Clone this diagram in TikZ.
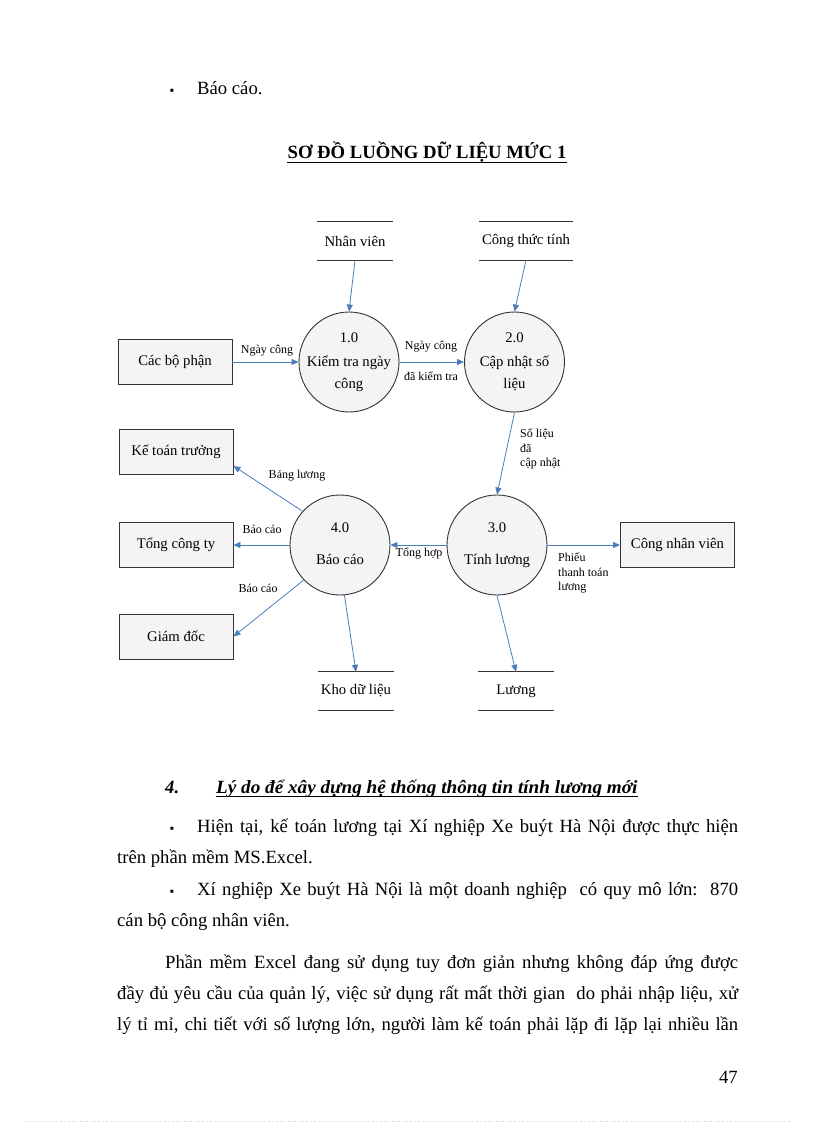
\documentclass[tikz,border=0pt]{standalone}
\usepackage{fontspec}
\setmainfont{Liberation Serif}
\usetikzlibrary{arrows.meta}
\definecolor{flowblue}{RGB}{74,126,187}
\definecolor{shapefill}{RGB}{244,244,244}
\begin{document}
\begin{tikzpicture}[x=1pt,y=-1pt,
  body/.style={font=\fontsize{18.67}{22}\selectfont, inner sep=0pt, anchor=base west},
  proc/.style={circle, draw=black!80, line width=0.9pt, fill=shapefill, minimum size=100pt, inner sep=0pt},
  ptext/.style={font=\fontsize{14.7}{18}\selectfont, inner sep=0pt, anchor=base},
  ent/.style={rectangle, draw=black!80, line width=0.9pt, fill=shapefill, minimum width=114pt, minimum height=45pt, font=\fontsize{14.7}{18}\selectfont},
  store/.style={minimum width=75pt, minimum height=38pt, inner sep=0pt, font=\fontsize{14.7}{18}\selectfont},
  storeline/.style={draw=black!80, line width=1pt},
  flow/.style={draw=flowblue, line width=0.8pt, -{Triangle[length=7pt,width=6pt]}},
  lbl/.style={font=\fontsize{12}{14}\selectfont, inner sep=0pt},
  lbll/.style={font=\fontsize{12}{14.5}\selectfont, inner sep=0pt, align=left, anchor=north west}
]
\useasboundingbox (0,0) rectangle (816,1123);
\fill[white] (0,0) rectangle (816,1123);

% top text
\node[body, anchor=base] (b0) at (172,95) {\fontsize{12}{14}\selectfont ▪};
\node[body] (t0) at (197,95) {Báo cáo.};
\node[body, anchor=base, font=\fontsize{18.67}{22}\selectfont\bfseries] (title) at (427,159) {SƠ ĐỒ LUỒNG DỮ LIỆU MỨC 1};
\draw[line width=1.1pt] ([yshift=-3.5pt]title.base west) -- ([yshift=-3.5pt]title.base east);

% data stores
\node[store] (nv) at (355,241) {Nhân viên};
\node[store, minimum width=94pt] (ctt) at (526,241) {Công thức tính};
\node[store] (kho) at (356,691) {Kho dữ liệu};
\node[store] (luong) at (516,691) {Lương};
\foreach \s in {nv,ctt,kho,luong}{
  \draw[storeline] (\s.north west) -- (\s.north east);
  \draw[storeline] (\s.south west) -- (\s.south east);
}

% external entities
\node[ent] (cbp) at (175,362) {Các bộ phận};
\node[ent] (ktt) at (176,452) {Kế toán trưởng};
\node[ent] (tct) at (176,545) {Tổng công ty};
\node[ent] (gd) at (176,636.5) {Giám đốc};
\node[ent] (cnv) at (677.5,545) {Công nhân viên};

% processes
\node[proc] (p1) at (349,362) {};
\node[proc] (p2) at (514.5,362) {};
\node[proc] (p3) at (497,545) {};
\node[proc] (p4) at (340,545) {};
\node[ptext] at (349,342) {1.0};
\node[ptext] at (349,366) {Kiểm tra ngày};
\node[ptext] at (349,388) {công};
\node[ptext] at (514.5,342) {2.0};
\node[ptext] at (514.5,366) {Cập nhật số};
\node[ptext] at (514.5,388) {liệu};
\node[ptext] at (497,532) {3.0};
\node[ptext] at (497,564) {Tính lương};
\node[ptext] at (340,532) {4.0};
\node[ptext] at (340,564) {Báo cáo};

% flows
\draw[flow] (nv.south) -- (p1.north);
\draw[flow] (ctt.south) -- (p2.north);
\draw[flow] (cbp.east) -- (p1.west);
\draw[flow] (p1.east) -- (p2.west);
\draw[flow] (p2.south) -- (p3.north);
\draw[flow] (p3.west) -- (p4.east);
\draw[flow] (p3.east) -- (cnv.west);
\draw[flow] (p4.138) -- ([yshift=9pt]ktt.south east);
\draw[flow] (p4.west) -- (tct.east);
\draw[flow] (p4.224) -- (gd.east);
\draw[flow] (p4.-85) -- (kho.north);
\draw[flow] (p3.south) -- (luong.north);

% flow labels
\node[lbl] at (267,351) {Ngày công};
\node[lbl] at (431,347) {Ngày công};
\node[lbl] at (431,376) {đã kiểm tra};
\node[lbll] at (520,429) {Số liệu\\đã\\cập nhật};
\node[lbl] at (297,476) {Bảng lương};
\node[lbl] at (262,529) {Báo cáo};
\node[lbl] at (258,588) {Báo cáo};
\node[lbl] at (419,553) {Tổng hợp};
\node[lbll] at (558,553) {Phiếu\\thanh toán\\lương};

% lower text
\node[body, font=\fontsize{18.67}{22}\selectfont\bfseries\itshape] (h4) at (165,793) {4.};
\node[body, font=\fontsize{18.67}{22}\selectfont\bfseries\itshape] (head) at (216,793) {\scalebox{1.027}[1]{Lý do để xây dựng hệ thống thông tin tính lương mới}};
\draw[line width=1pt] ([yshift=-3pt]head.base west) -- ([yshift=-3pt]head.base east);

\node[body, anchor=base] (b1) at (172,832) {\fontsize{12}{14}\selectfont ▪};
\node[body] (l1) at (197,832) {\makebox[541pt][s]{Hiện tại, kế toán lương tại Xí nghiệp Xe buýt Hà Nội được thực hiện}};
\node[body] (l2) at (117,863) {trên phần mềm MS.Excel.};
\node[body, anchor=base] (b2) at (172,895) {\fontsize{12}{14}\selectfont ▪};
\node[body] (l3) at (197,895) {\makebox[541pt][s]{Xí nghiệp Xe buýt Hà Nội là một doanh nghiệp\ \ có quy mô lớn:\ \ 870}};
\node[body] (l4) at (117,926) {cán bộ công nhân viên.};
\node[body] (l5) at (165,968) {\makebox[573pt][s]{Phần mềm Excel đang sử dụng tuy đơn giản nhưng không đáp ứng được}};
\node[body] (l6) at (117,999) {\makebox[621pt][s]{đầy đủ yêu cầu của quản lý, việc sử dụng rất mất thời gian\ \ do phải nhập liệu, xử}};
\node[body] (l7) at (117,1030) {\makebox[621pt][s]{lý tỉ mỉ, chi tiết với số lượng lớn, người làm kế toán phải lặp đi lặp lại nhiều lần}};
\node[body, anchor=base east] (pg) at (738,1083) {47};

\draw[black!18, line width=0.6pt, dotted] (25,1121) -- (792,1121);
\end{tikzpicture}
\end{document}
